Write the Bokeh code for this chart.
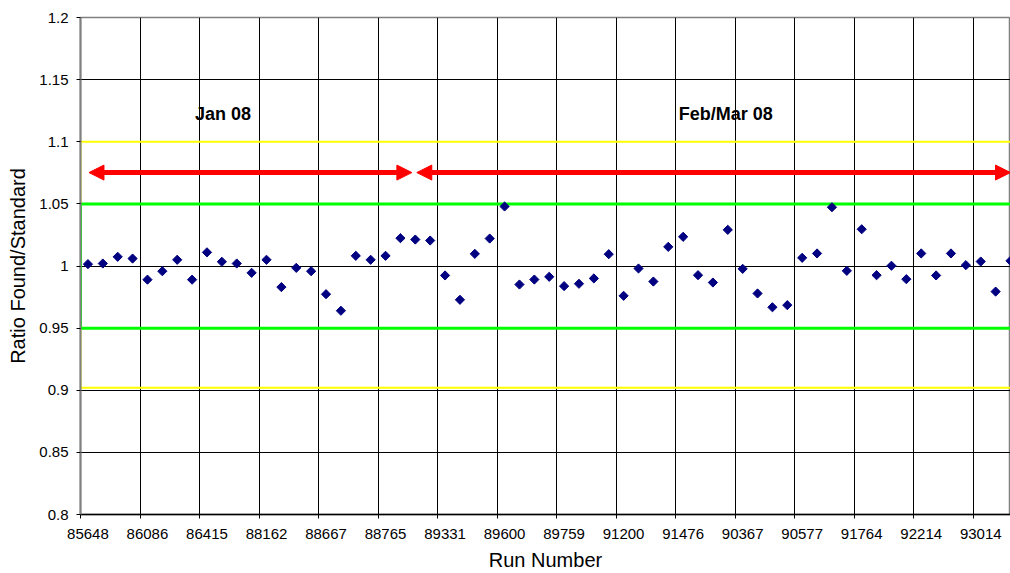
from bokeh.plotting import figure
from bokeh.models import Range1d, FixedTicker, Arrow, NormalHead, Label
from bokeh.embed import file_html
from bokeh.resources import INLINE

# ---- data ----
run_labels = ["85648", "86086", "86415", "88162", "88667", "88765", "89331", "89600",
              "89759", "91200", "91476", "90367", "90577", "91764", "92214", "93014"]
ratio = [1.0015, 1.002, 1.0074, 1.006, 0.989, 0.9958, 1.005, 0.989,
         1.011, 1.0034, 1.002, 0.9945, 1.005, 0.983, 0.9985, 0.9958,
         0.9773, 0.964, 1.0082, 1.005, 1.0082, 1.0224, 1.0213, 1.0205,
         0.9924, 0.9728, 1.0098, 1.0221, 1.0479, 0.9851, 0.9891, 0.9913,
         0.9838, 0.9857, 0.990, 1.0095, 0.976, 0.998, 0.9875, 1.0154,
         1.0235, 0.9926, 0.9867, 1.0291, 0.9977, 0.9779, 0.9668, 0.9685,
         1.0066, 1.0101, 1.0473, 0.9961, 1.0296, 0.9926, 1.0002, 0.9894,
         1.0101, 0.9924, 1.0101, 1.0007, 1.0036, 0.9794, 1.0042]
y_ticks = [0.8, 0.85, 0.9, 0.95, 1.0, 1.05, 1.1, 1.15, 1.2]
y_tick_labels = ["0.8", "0.85", "0.9", "0.95", "1", "1.05", "1.1", "1.15", "1.2"]
period_labels = ["Jan 08", "Feb/Mar 08"]
period_label_x = [9.07, 42.87]
period_label_y = 1.1227
arrow_y = 1.0752
arrow_x = [(0.07, 21.77), (22.1, 62.0)]
green_band = (0.95, 1.05)
yellow_band = (0.902, 1.1)

FONT = "Liberation Sans"
n = len(ratio)
xs = list(range(n))
label_pos = [4 * k for k in range(len(run_labels))]
grid_pos = [4 * k - 0.5 for k in range(len(run_labels))]

p = figure(width=1010, height=573, x_range=Range1d(-0.5, 62.0), y_range=Range1d(0.8, 1.2),
           output_backend="svg", toolbar_location=None,
           min_border_left=80, min_border_right=0, min_border_top=17, min_border_bottom=59)
p.background_fill_color = "white"
p.border_fill_color = "white"
p.outline_line_color = "#808080"
p.outline_line_width = 1.5

# x axis
p.xaxis.ticker = FixedTicker(ticks=label_pos, minor_ticks=grid_pos)
p.xaxis.major_label_overrides = {pos: lab for pos, lab in zip(label_pos, run_labels)}
p.xaxis.major_tick_line_color = None
p.xaxis.minor_tick_line_color = "black"
p.xaxis.minor_tick_out = 4
p.xaxis.minor_tick_in = 0
p.xaxis.major_label_standoff = 8
p.xaxis.axis_line_color = "black"
p.xaxis.axis_line_width = 1.5
p.xaxis.axis_label = "Run Number"
p.xaxis.axis_label_standoff = 7
p.xgrid.ticker = FixedTicker(ticks=grid_pos)

# y axis
p.yaxis.ticker = FixedTicker(ticks=y_ticks)
p.yaxis.major_label_overrides = {v: s for v, s in zip(y_ticks, y_tick_labels)}
p.yaxis.major_tick_out = 4
p.yaxis.major_tick_in = 0
p.yaxis.minor_tick_line_color = None
p.yaxis.major_tick_line_color = "black"
p.yaxis.major_label_standoff = 8
p.yaxis.axis_line_color = "#808080"
p.yaxis.axis_line_width = 2
p.yaxis.axis_label = "Ratio Found/Standard"
p.yaxis.axis_label_standoff = 7

for ax in (p.xaxis, p.yaxis):
    ax.major_label_text_font = FONT
    ax.major_label_text_font_size = "15px"
    ax.major_label_text_color = "black"
    ax.axis_label_text_font = FONT
    ax.axis_label_text_font_size = "20px"
    ax.axis_label_text_font_style = "normal"
    ax.axis_label_text_color = "black"

for g in (p.xgrid, p.ygrid):
    g.grid_line_color = "black"
    g.grid_line_width = 1

# bands
p.quad(left=[-0.5], right=[70], bottom=[yellow_band[0]], top=[yellow_band[1]],
       fill_color=None, line_color="#FFFF00", line_width=2)
p.quad(left=[-0.5], right=[70], bottom=[green_band[0]], top=[green_band[1]],
       fill_color=None, line_color="#00FF00", line_width=3)

# arrows
for x0, x1 in arrow_x:
    p.add_layout(Arrow(x_start=x0, y_start=arrow_y, x_end=x1, y_end=arrow_y,
                       line_color="#FF0000", line_width=5,
                       start=NormalHead(size=15, fill_color="#FF0000", line_color="#FF0000", line_width=1),
                       end=NormalHead(size=15, fill_color="#FF0000", line_color="#FF0000", line_width=1)))

# period labels
for lx, txt in zip(period_label_x, period_labels):
    p.add_layout(Label(x=lx, y=period_label_y, text=txt, text_align="center",
                       text_baseline="middle", text_font=FONT, text_font_size="18px",
                       text_font_style="bold", text_color="black"))

# data points
p.scatter(xs, ratio, marker="square", angle=0.785398, size=6.5,
          fill_color="#000080", line_color="#000080")

open("out.html", "w").write(file_html(p, INLINE))
